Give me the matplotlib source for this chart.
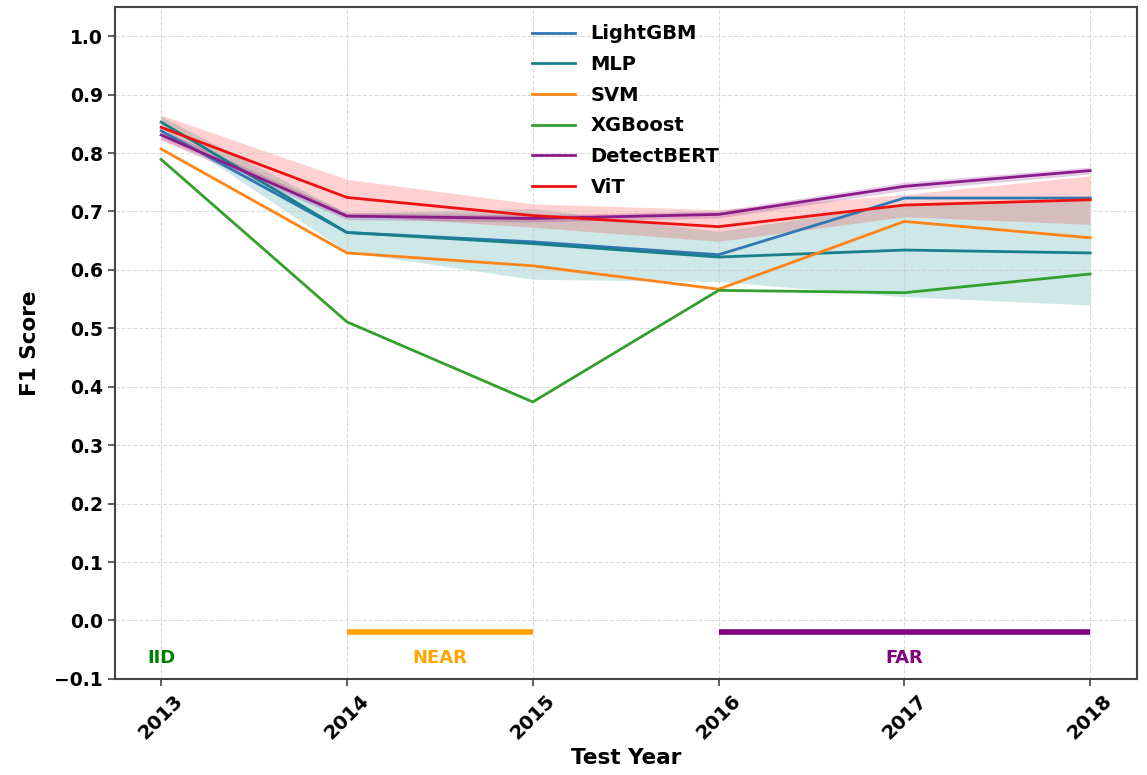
import numpy as np
import matplotlib
matplotlib.use("Agg")
import matplotlib.pyplot as plt

years = [2013, 2014, 2015, 2016, 2017, 2018]

lightgbm = [0.838, 0.664, 0.648, 0.626, 0.723, 0.723]
mlp = [0.853, 0.664, 0.645, 0.622, 0.634, 0.629]
svm = [0.807, 0.629, 0.607, 0.567, 0.683, 0.655]
xgboost = [0.789, 0.511, 0.374, 0.565, 0.561, 0.593]
detectbert = [0.831, 0.692, 0.688, 0.695, 0.743, 0.770]
vit = [0.844, 0.724, 0.693, 0.674, 0.711, 0.720]

# spread across runs (lower, upper)
mlp_lo = [0.843, 0.631, 0.584, 0.580, 0.554, 0.540]
mlp_hi = [0.863, 0.697, 0.705, 0.666, 0.714, 0.718]
vit_lo = [0.824, 0.694, 0.673, 0.649, 0.691, 0.678]
vit_hi = [0.865, 0.755, 0.713, 0.703, 0.729, 0.761]
bert_lo = [0.822, 0.686, 0.682, 0.689, 0.736, 0.764]
bert_hi = [0.840, 0.698, 0.694, 0.701, 0.750, 0.776]

yticks = [-0.1, 0.0, 0.1, 0.2, 0.3, 0.4, 0.5, 0.6, 0.7, 0.8, 0.9, 1.0]

plt.rcParams['font.family'] = 'DejaVu Sans'
plt.rcParams['font.weight'] = 'bold'

fig, ax = plt.subplots(figsize=(11.47, 7.75), dpi=100)
fig.subplots_adjust(left=0.1, right=0.991, top=0.991, bottom=0.124)

ax.fill_between(years, mlp_lo, mlp_hi, color='#5fb0b0', alpha=0.3, lw=0)
ax.fill_between(years, vit_lo, vit_hi, color='red', alpha=0.18, lw=0)
ax.fill_between(years, bert_lo, bert_hi, color='purple', alpha=0.2, lw=0)

ax.plot(years, lightgbm, color='#2f78b4', lw=2, label='LightGBM')
ax.plot(years, mlp, color='#17808a', lw=2, label='MLP')
ax.plot(years, svm, color='#ff8418', lw=2, label='SVM')
ax.plot(years, xgboost, color='#33a02c', lw=2, label='XGBoost')
ax.plot(years, detectbert, color='#8b1a8b', lw=2, label='DetectBERT')
ax.plot(years, vit, color='#ee1111', lw=2, label='ViT')

# test-year groups
ax.plot([2014, 2015], [-0.02, -0.02], color='orange', lw=4, solid_capstyle='butt')
ax.plot([2016, 2018], [-0.02, -0.02], color='purple', lw=4, solid_capstyle='butt')
ax.text(2013, -0.065, 'IID', color='green', ha='center', va='center', fontsize=13, fontweight='bold')
ax.text(2014.5, -0.065, 'NEAR', color='orange', ha='center', va='center', fontsize=13, fontweight='bold')
ax.text(2017, -0.065, 'FAR', color='purple', ha='center', va='center', fontsize=13, fontweight='bold')

ax.set_xlim(2012.75, 2018.25)
ax.set_ylim(-0.1, 1.05)
ax.set_xticks(years)
ax.set_xticklabels([str(y) for y in years], rotation=45, fontsize=14, fontweight='bold')
ax.set_yticks(yticks)
ax.set_yticklabels([('%.1f' % v).replace('-', '\u2212') for v in yticks], fontsize=13.5, fontweight='bold')
ax.set_xlabel('Test Year', fontsize=15.5, fontweight='bold')
ax.set_ylabel('F1 Score', fontsize=15.5, fontweight='bold', labelpad=10)
ax.grid(True, linestyle='--', color='#cccccc', alpha=0.7, lw=0.8)
ax.tick_params(color='#444444', width=1.2, length=5)
for s in ax.spines.values():
    s.set_linewidth(1.5)
    s.set_color('#444444')

leg = ax.legend(loc='upper center', frameon=False, fontsize=14, handlelength=2.2,
                labelspacing=0.6, bbox_to_anchor=(0.5, 1.0))
for t in leg.get_texts():
    t.set_fontweight('bold')

plt.savefig('out.png', dpi=100)
